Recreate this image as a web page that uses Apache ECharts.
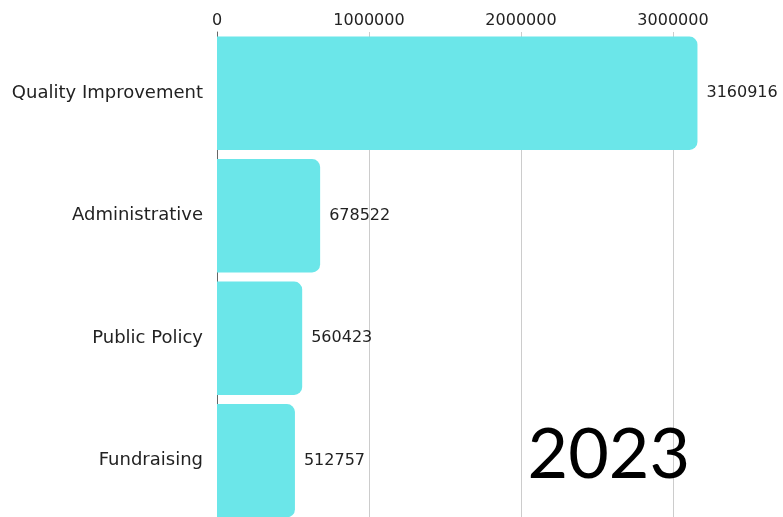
<!DOCTYPE html>
<html>
<head>
<meta charset="utf-8">
<script src="https://cdn.jsdelivr.net/npm/echarts@6/dist/echarts.min.js"></script>
<style>html,body{margin:0;padding:0;background:#fff;overflow:hidden}#c{width:783px;height:540px}</style>
</head>
<body>
<div id="c"></div>
<script>
var categories = ['Quality Improvement', 'Administrative', 'Public Policy', 'Fundraising'];
var values = [3160916, 678522, 560423, 512757];
var yearLabel = '2023';

var FONT = '"DejaVu Sans", sans-serif';
var chart = echarts.init(document.getElementById('c'));
chart.setOption({
  animation: false,
  grid: { left: 217, right: 0, top: 32, height: 490, containLabel: false },
  xAxis: {
    type: 'value', position: 'top', min: 0, max: 3723684, interval: 1000000,
    axisLine: { show: false }, axisTick: { show: false },
    splitLine: { show: true, lineStyle: { color: '#cccccc', width: 1 } },
    axisLabel: { showMaxLabel: false, color: '#222', fontSize: 16, fontFamily: FONT, margin: 3,
      formatter: function (v) { return String(v); } }
  },
  yAxis: {
    type: 'category', data: categories, inverse: true,
    axisLine: { show: true, lineStyle: { color: '#666', width: 1 } },
    axisTick: { show: false },
    axisLabel: { color: '#222', fontSize: 18, fontFamily: FONT, margin: 14 }
  },
  series: [{
    type: 'bar', data: values, barCategoryGap: '7.5%',
    itemStyle: { color: '#6be6e9', borderRadius: [0, 8, 8, 0] },
    label: { show: true, position: 'right', distance: 9, color: '#222', fontSize: 16, fontFamily: FONT }
  }],
  graphic: [{
    type: 'text', right: 93, top: 420, z: 10,
    style: { text: yearLabel, fontSize: 70, fontFamily: 'Lato, sans-serif', fill: '#000', fontWeight: 'normal' }
  }]
});
</script>
</body>
</html>
